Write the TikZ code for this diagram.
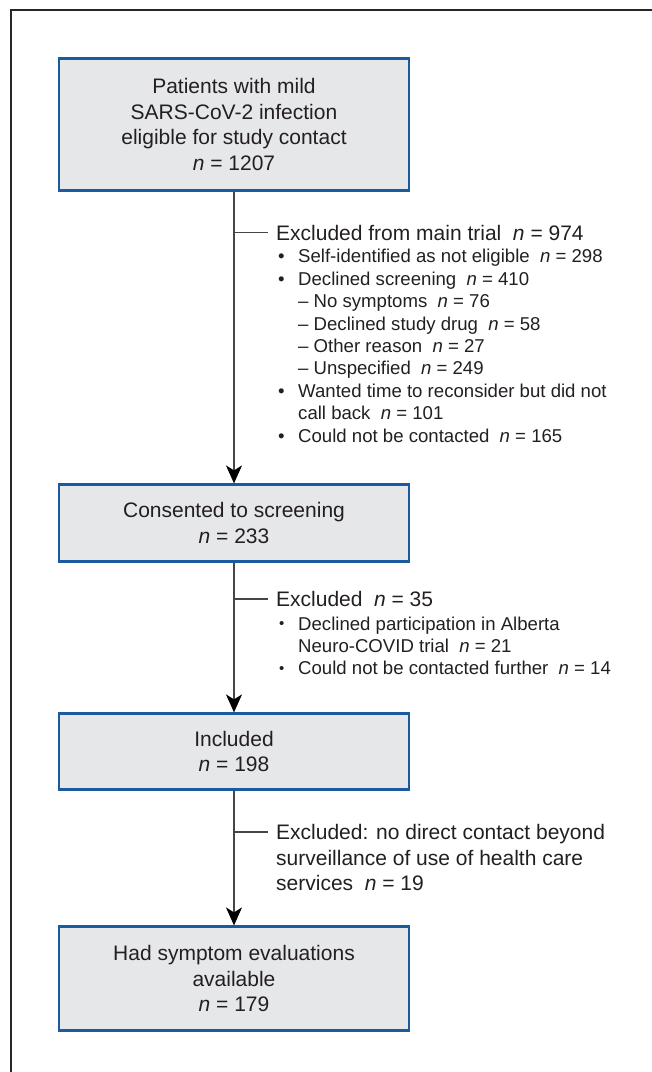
\documentclass[tikz,border=0pt]{standalone}
\usepackage{fontspec}
\setmainfont{Liberation Sans}
\usepackage{tikz}
\usetikzlibrary{arrows.meta}
\definecolor{boxfill}{RGB}{230,231,233}
\definecolor{boxline}{RGB}{28,90,160}
\definecolor{linegray}{RGB}{70,70,70}
\definecolor{txt}{RGB}{35,31,32}
\newcommand{\nval}[1]{\hspace{0.55em}\textit{n} = #1}
\newcommand{\bul}{\makebox[22pt][l]{\hspace{2pt}\textbullet}}
\newcommand{\sbul}{\makebox[22pt][l]{\hspace{3pt}\raisebox{1.2pt}{\fontsize{15}{15}\selectfont\textbullet}}}
\newcommand{\cont}{\hspace*{22pt}}
\tikzset{
  Pbox/.style={draw=boxline, line width=2.2pt, fill=boxfill, align=center,
               font=\fontsize{21}{25.5}\selectfont, text=txt,
               minimum width=350pt, inner sep=0pt},
  Xhead/.style={font=\fontsize{21}{25.5}\selectfont, text=txt,
                inner sep=0pt, anchor=base west},
  Xlist/.style={font=\fontsize{18.6}{22.4}\selectfont, text=txt,
                align=left, inner sep=0pt, anchor=north west},
  Farr/.style={draw=linegray, line width=1.2pt,
               -{Stealth[length=18pt,width=16pt,inset=5pt,color=black]}},
  Ftick/.style={draw=linegray, line width=1.2pt}
}
\begin{document}
\begin{tikzpicture}[x=1pt,y=-1pt]
  \useasboundingbox (0,0) rectangle (652,1072);
  % outer frame
  \draw[line width=1.3pt, black!85] (11,1072) -- (11,10) -- (652,10);

  \node[Pbox, minimum height=132pt] (pat) at (234,124.5)
    {Patients with mild\\SARS-CoV-2 infection\\eligible for study contact\\\textit{n} = 1207};
  \node[Pbox, minimum height=77pt] (scr) at (234,523)
    {Consented to screening\\\textit{n} = 233};
  \node[Pbox, minimum height=76pt] (inc) at (234,751.5)
    {Included\\\textit{n} = 198};
  \node[Pbox, minimum height=104pt] (eva) at (234,978.5)
    {Had symptom evaluations\\available\\\textit{n} = 179};

  % exclusions
  \node[Xhead] (xh1) at (276,240.5) {Excluded from main trial\nval{974}};
  \node[Xlist] (xl1) at (276,249.2)
    {\bul Self-identified as not eligible\nval{298}\\
     \bul Declined screening\nval{410}\\
     \cont -- No symptoms\nval{76}\\
     \cont -- Declined study drug\nval{58}\\
     \cont -- Other reason\nval{27}\\
     \cont -- Unspecified\nval{249}\\
     \bul Wanted time to reconsider but did not\\
     \cont call back\nval{101}\\
     \bul Could not be contacted\nval{165}};
  \node[Xhead] (xh2) at (276,606.5) {Excluded\nval{35}};
  \node[Xlist] (xl2) at (276,616.4)
    {\sbul Declined participation in Alberta\\
     \cont Neuro-COVID trial\nval{21}\\
     \sbul Could not be contacted further\nval{14}};
  \node[Xlist, font=\fontsize{21}{25.5}\selectfont] (xl3) at (276,824.5)
    {Excluded: no direct contact beyond\\
     surveillance of use of health care\\
     services\nval{19}};

  \coordinate (t1) at (268,232.5);
  \coordinate (t2) at (268,599);
  \coordinate (t3) at (268,832);

  \draw[Farr] (pat.south) -- (scr.north);
  \draw[Farr] (scr.south) -- (inc.north);
  \draw[Farr] (inc.south) -- (eva.north);
  \draw[Ftick] (pat.south |- t1) -- (t1);
  \draw[Ftick] (scr.south |- t2) -- (t2);
  \draw[Ftick] (inc.south |- t3) -- (t3);
\end{tikzpicture}
\end{document}
